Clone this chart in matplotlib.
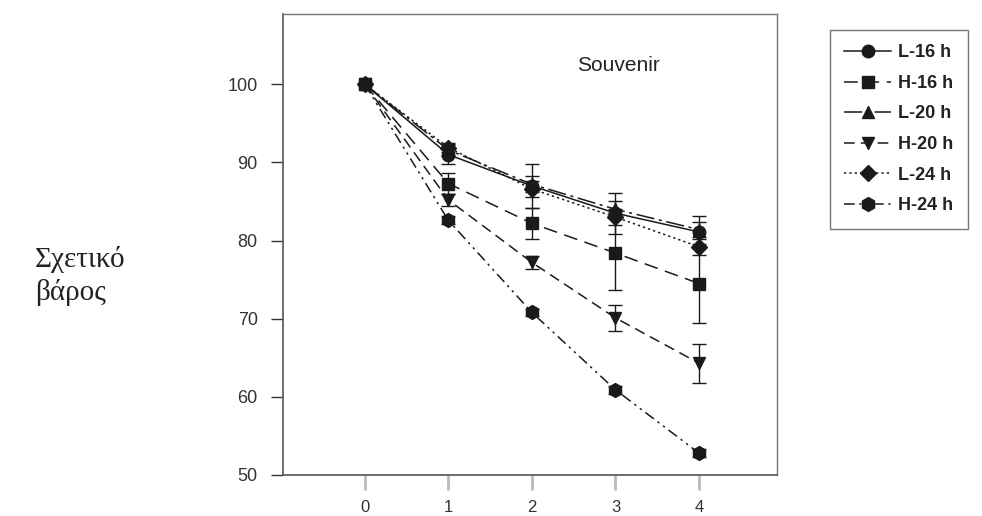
import numpy as np
import matplotlib
matplotlib.use("Agg")
import matplotlib.pyplot as plt

plt.rcParams['font.family'] = ['Liberation Sans', 'DejaVu Sans']

# data (relative weight, % of initial)
days = [0, 1, 2, 3, 4]
labels = ['L-16 h', 'H-16 h', 'L-20 h', 'H-20 h', 'L-24 h', 'H-24 h']
l16 = [100, 91.0, 87.0, 83.5, 81.1]
h16 = [100, 87.3, 82.2, 78.4, 74.5]
l20 = [100, 91.6, 87.2, 84.0, 81.4]
h20 = [100, 85.2, 77.2, 70.1, 64.3]
l24 = [100, 91.9, 86.6, 83.0, 79.2]
h24 = [100, 82.6, 70.8, 60.9, 52.8]
l16_err = [0, 1.2, 2.8, 2.6, 2.0]
h16_err = [0, 1.3, 2.0, 4.7, 5.1]
l20_err = [0, 0.8, 1.0, 1.0, 1.0]
h20_err = [0, 0.8, 0.8, 1.7, 2.5]
l24_err = [0, 0.6, 1.0, 1.0, 1.0]
h24_err = [0, 0.5, 0.5, 0.5, 0.5]

series = [l16, h16, l20, h20, l24, h24]
errs = [l16_err, h16_err, l20_err, h20_err, l24_err, h24_err]
markers = ['o', 's', '^', 'v', 'D', 'h']
styles = ['-', (0, (9, 5)), (0, (12, 3, 2, 3)), (0, (7, 4)), (0, (1.5, 2)), (0, (7, 3, 1.5, 3, 1.5, 3))]
msizes = [9, 8, 8, 9, 8, 10]

fig = plt.figure(figsize=(9.82, 5.16), dpi=100)
ax = fig.add_axes([0.288, 0.0795, 0.503, 0.8935])

handles = []
for y, e, m, ls, ms, lab in zip(series, errs, markers, styles, msizes, labels):
    c = ax.errorbar(days, y, yerr=e, color='#1a1a1a', marker=m, ms=ms, ls=ls, lw=1.1,
                    elinewidth=1.0, capsize=5, capthick=1.0, label=lab)
    handles.append(c[0])

ax.set_xlim(-0.98, 4.93)
ax.set_ylim(50, 109)
ax.set_xticks(days)
ax.set_yticks([50, 60, 70, 80, 90, 100])
ax.tick_params(axis='y', direction='out', length=9, width=1, pad=9, labelsize=13, colors='#333333')
ax.tick_params(axis='x', direction='out', length=11, width=2, pad=7, labelsize=12,
               colors='#bbbbbb', labelcolor='#333333')
for s in ['top', 'right']:
    ax.spines[s].set_color('#777777')
    ax.spines[s].set_linewidth(1.0)
for s in ['left', 'bottom']:
    ax.spines[s].set_color('#555555')
    ax.spines[s].set_linewidth(1.2)

ax.text(3.03, 102.4, 'Souvenir', fontsize=15, color='#222222', ha='center', va='center')

fig.text(0.036, 0.465, 'Σχετικό\nβάρος', fontsize=21, family=['Liberation Serif', 'DejaVu Serif'],
         color='#222222', ha='left', va='center', linespacing=1.25)

leg = fig.legend(handles, labels, loc='upper left', bbox_to_anchor=(0.845, 0.942), frameon=True,
                 fancybox=False, edgecolor='#555555', handlelength=2.6, labelspacing=0.75,
                 prop={'weight': 'bold', 'size': 13}, borderpad=0.8, handletextpad=0.4,
                 borderaxespad=0)
leg.get_frame().set_linewidth(1.0)
for t in leg.get_texts():
    t.set_color('#222222')

fig.savefig('out.png', dpi=100)
